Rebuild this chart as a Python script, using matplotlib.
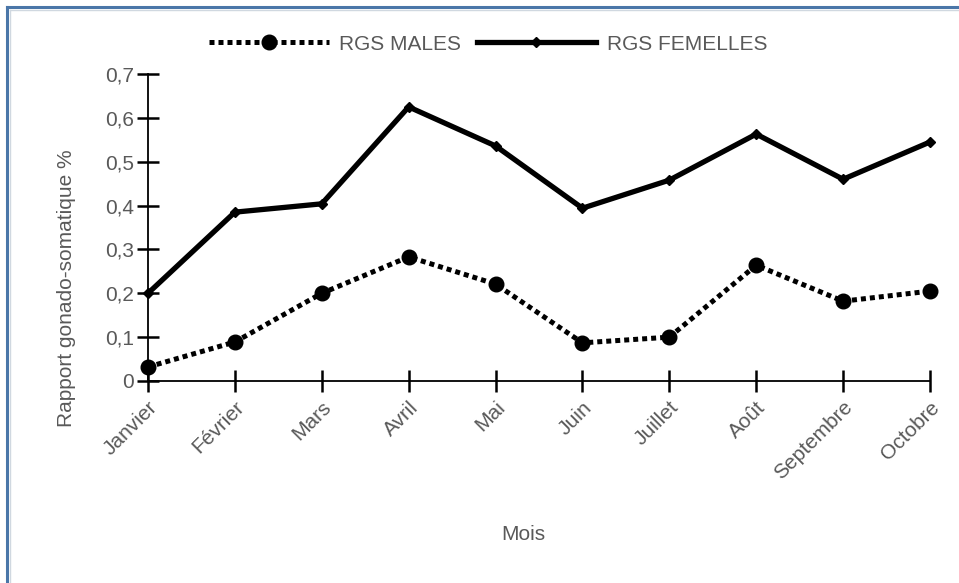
import matplotlib.pyplot as plt
from matplotlib.lines import Line2D
from matplotlib.transforms import ScaledTranslation

plt.rcParams['font.family'] = ['Liberation Sans', 'DejaVu Sans']

mois = ["Janvier", "Février", "Mars", "Avril", "Mai", "Juin",
        "Juillet", "Août", "Septembre", "Octobre"]
rgs_males = [0.032, 0.089, 0.200, 0.283, 0.221, 0.087, 0.100, 0.264, 0.182, 0.205]
rgs_femelles = [0.200, 0.385, 0.404, 0.625, 0.536, 0.394, 0.458, 0.563, 0.460, 0.545]
y_ticks = [0, 0.1, 0.2, 0.3, 0.4, 0.5, 0.6, 0.7]
y_labels = ["0", "0,1", "0,2", "0,3", "0,4", "0,5", "0,6", "0,7"]

grey = "#595959"
fs = 15
W, H = 959, 583

fig = plt.figure(figsize=(W / 100, H / 100), dpi=100)
ax = fig.add_axes([148 / W, 1 - 381 / H, (930 - 148) / W, (381 - 74) / H])

x = list(range(len(mois)))
ax.plot(x, rgs_males, color="black", lw=3.6, linestyle=(0, (1, 0.8)),
        dash_capstyle="butt", marker="o", ms=10.5, clip_on=False, zorder=3,
        label="RGS MALES")
ax.plot(x, rgs_femelles, color="black", lw=3.8, linestyle="-",
        marker="D", ms=5.5, clip_on=False, zorder=3, label="RGS FEMELLES")

ax.set_xlim(0, len(mois) - 1)
ax.set_ylim(0, 0.7)
ax.set_yticks(y_ticks)
ax.set_yticklabels(y_labels)
ax.set_xticks(x)
ax.set_xticklabels(mois, rotation=45, ha="right", rotation_mode="anchor")

# nudge the rotated month labels a little to the left, like the original
shift = ScaledTranslation(-5 / 100, 0, fig.dpi_scale_trans)
for lbl in ax.get_xticklabels():
    lbl.set_transform(lbl.get_transform() + shift)

for s in ["top", "right"]:
    ax.spines[s].set_visible(False)
for s in ["left", "bottom"]:
    ax.spines[s].set_linewidth(1.3)
ax.tick_params(direction="inout", length=16, width=1.8, colors="black",
               labelcolor=grey, labelsize=fs)
ax.tick_params(axis="x", pad=4)
ax.tick_params(axis="y", pad=2)

fig.text(67 / W, 1 - 288 / H, "Rapport gonado-somatique %", rotation=90,
         ha="center", va="center", color=grey, fontsize=fs)
fig.text(523 / W, 1 - 535 / H, "Mois", ha="center", va="center",
         color=grey, fontsize=fs)

fig.legend(loc="center", bbox_to_anchor=(488 / W, 1 - 44 / H), ncol=2,
           frameon=False, fontsize=fs, handlelength=5.75, labelcolor=grey,
           columnspacing=0.75, handletextpad=0.5)

# left and top frame lines
fig.add_artist(Line2D([7 / W, 7 / W], [0, 1 - 7 / H], color="#4a76a8", lw=2.2))
fig.add_artist(Line2D([7 / W, 1], [1 - 7 / H, 1 - 7 / H], color="#4a76a8", lw=2.2))
fig.add_artist(Line2D([9.5 / W, 9.5 / W], [0, 1 - 9.5 / H], color="#d0d8e0", lw=1))
fig.add_artist(Line2D([9.5 / W, 1], [1 - 9.5 / H, 1 - 9.5 / H], color="#d0d8e0", lw=1))

fig.savefig("out.png", dpi=100)
